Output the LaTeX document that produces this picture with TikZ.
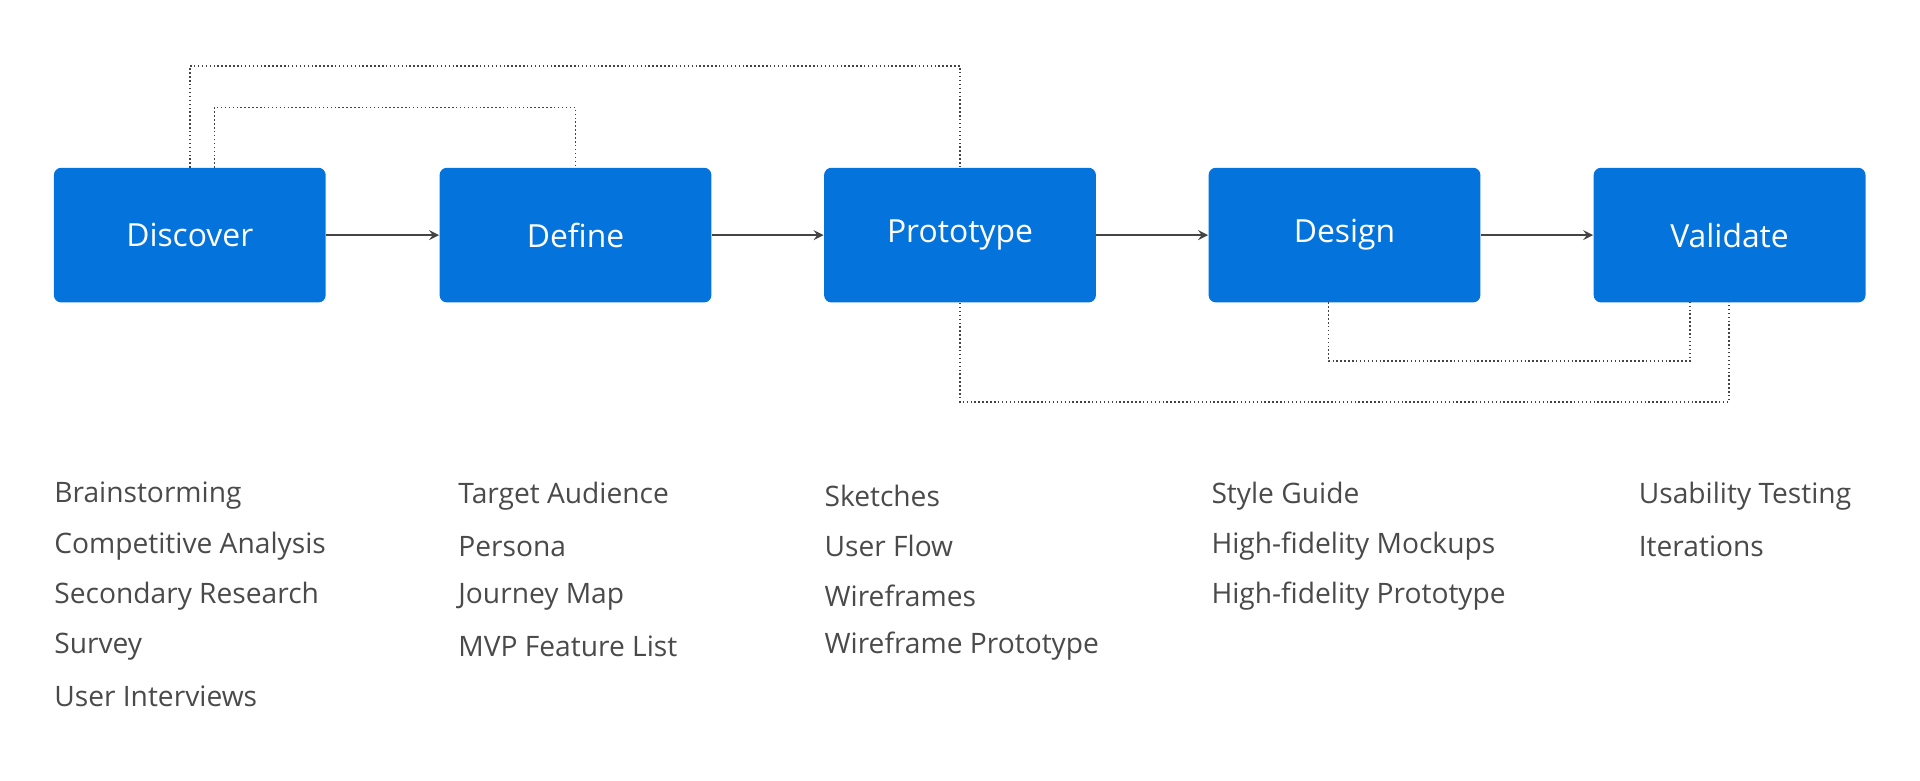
\documentclass[tikz,border=0pt]{standalone}
\usepackage{fontspec}
\setmainfont{Open Sans}
\usetikzlibrary{positioning}
\definecolor{stageBlue}{HTML}{0474DC}
\definecolor{lineGrey}{HTML}{444444}
\definecolor{textGrey}{HTML}{4A4A4A}
\begin{document}
\begin{tikzpicture}[%
    x=0.5pt, y=-0.5pt,
    stage/.style={%
        fill=stageBlue,
        rounded corners=3pt,
        minimum width=111pt,
        minimum height=55pt,
        text=white,
        font=\fontsize{13}{15}\selectfont
    },
    item/.style={%
        anchor=west,
        inner sep=0pt,
        text=textGrey,
        font=\fontsize{11.5}{14}\selectfont
    },
    flow/.style={->, draw=lineGrey, line width=0.8pt},
    loop/.style={draw=lineGrey, densely dotted, line width=0.6pt},
    >=stealth
]
\useasboundingbox (0,0) rectangle (1568,637);

% Stages
    \node[stage] (discover) at (155,192) {Discover};
    \node[stage] (define) at (470,192) {Define};
    \node[stage] (prototype) at (784,192) {Prototype};
    \node[stage] (design) at (1098,192) {Design};
    \node[stage] (validate) at (1412.5,192) {Validate};

% Activities
    \foreach \txt [count=\i] in {Brainstorming, Competitive Analysis, Secondary Research, Survey, User Interviews}
        \node[item] (discoverItem\i) at (44, 364+41*\i) {\txt};
    \foreach \txt [count=\i] in {Target Audience, Persona, Journey Map, MVP Feature List}
        \node[item] (defineItem\i) at (374, 364+41*\i) {\txt};
    \foreach \txt [count=\i] in {Sketches, User Flow, Wireframes, Wireframe Prototype}
        \node[item] (prototypeItem\i) at (673, 364+41*\i) {\txt};
    \foreach \txt [count=\i] in {Style Guide, High-fidelity Mockups, High-fidelity Prototype}
        \node[item] (designItem\i) at (989, 364+41*\i) {\txt};
    \foreach \txt [count=\i] in {Usability Testing, Iterations}
        \node[item] (validateItem\i) at (1338, 364+41*\i) {\txt};

% Arrows
\draw[flow] (discover) -- (define);
\draw[flow] (define) -- (prototype);
\draw[flow] (prototype) -- (design);
\draw[flow] (design) -- (validate);

% Loops
\coordinate (discoverA) at (155,137);
\coordinate (discoverB) at (175,137);
\coordinate (designB) at (1085,247);
\coordinate (validateA) at (1380,247);
\coordinate (validateB) at (1412,247);
\draw[loop] (discoverA) -- ++(0,-83) -| (prototype.north);
\draw[loop] (discoverB) -- ++(0,-49) -| (define.north);
\draw[loop] (designB) -- ++(0,48) -| (validateA);
\draw[loop] (prototype.south) -- ++(0,81) -| (validateB);

\end{tikzpicture}
\end{document}
